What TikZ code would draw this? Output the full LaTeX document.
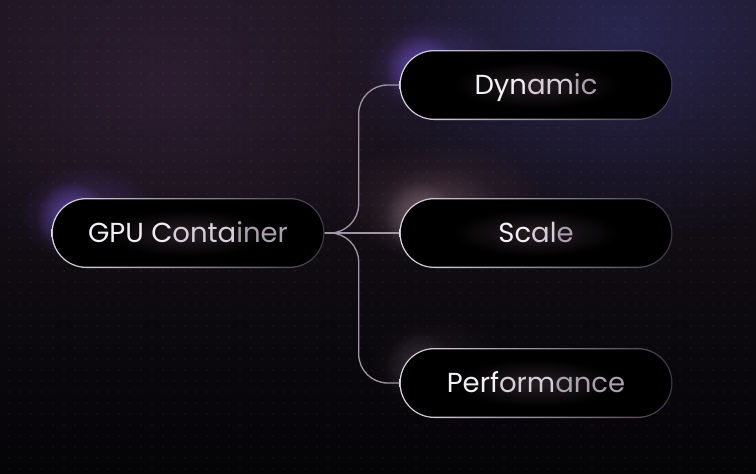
\documentclass[tikz,border=0pt]{standalone}
\usepackage{fontspec}
\setmainfont{Poppins}
\usetikzlibrary{fadings}
\tikzfading[name=glowfade, inner color=transparent!0, outer color=transparent!100]
\definecolor{bgtop}{HTML}{1C1520}
\definecolor{bgmid}{HTML}{110D13}
\definecolor{bgbot}{HTML}{040306}
\definecolor{bluish}{HTML}{29264F}
\definecolor{plum}{HTML}{2C1E30}
\definecolor{rose}{HTML}{33222C}
\definecolor{violet}{HTML}{7454D0}
\definecolor{pinkw}{HTML}{A08A9A}
\definecolor{dimh}{HTML}{6A5A6C}
\definecolor{bdl}{HTML}{E4DCE6}
\definecolor{bdr}{HTML}{41374A}
\definecolor{txtglow}{HTML}{261E24}
\definecolor{connc}{HTML}{A096A6}
\definecolor{t1}{HTML}{F3EFF4}
\definecolor{t2}{HTML}{D6CED9}
\definecolor{t3}{HTML}{ACA0AE}
\newcommand\mypill[6]{%
  \fill[#4, path fading=glowfade, fill opacity=#6*0.45] (#2-100,#3-18) ellipse (70pt and 50pt);
  \fill[#4, path fading=glowfade, fill opacity=#6] (#2-116,#3-16) circle (36pt);
  \shade[left color=bdl, right color=bdr, rounded corners=35pt] (#2-136.5,#3-35) rectangle (#2+136.5,#3+35);
  \fill[black, rounded corners=33.7pt] (#2-135.2,#3-33.7) rectangle (#2+135.2,#3+33.7);
  \fill[txtglow, path fading=glowfade] (#2,#3) ellipse (85pt and 24pt);
  \node[pilltext] (#1) at (#2,#3) {#5};
}
\begin{document}
\begin{tikzpicture}[x=1pt,y=-1pt,
  conn/.style={draw=connc, line width=1.3pt},
  pilltext/.style={minimum width=273pt, minimum height=70pt, inner sep=0pt, text height=19.5pt, text depth=0pt, font=\fontsize{27.5}{32}\selectfont},
  dotc/.style={fill=white, fill opacity=0.075}]
\useasboundingbox (0,0) rectangle (756,474);
% background
\shade[top color=bgtop, bottom color=bgbot, middle color=bgmid] (0,0) rectangle (756,474);
\fill[bluish, path fading=glowfade] (620,30) ellipse (300pt and 210pt);
\fill[plum, path fading=glowfade] (170,80) ellipse (280pt and 200pt);
\fill[rose, path fading=glowfade] (440,200) ellipse (110pt and 60pt);
% dot grid
\foreach \i in {0,...,68}{\foreach \j in {0,...,42}{\fill[dotc] (9+11*\i,7+11*\j) circle (0.8pt);}}
% nodes
\mypill{gpu}{188}{233}{violet}{\textcolor{t1}{GPU C}\textcolor{t2}{onta}\textcolor{t3}{iner}}{0.75}
\mypill{dyn}{536}{85}{violet}{\textcolor{t1}{Dyn}\textcolor{t2}{am}\textcolor{t3}{ic}}{0.75}
\mypill{scale}{536}{233}{pinkw}{\textcolor{t1}{Sc}\textcolor{t2}{al}\textcolor{t3}{e}}{0.55}
\mypill{perf}{536}{383}{dimh}{\textcolor{t1}{Perf}\textcolor{t2}{orm}\textcolor{t3}{ance}}{0.4}
% connectors
\draw[conn, rounded corners=29pt] (gpu.east) -- ++(34,0) |- (dyn.west);
\draw[conn, rounded corners=29pt] (gpu.east) -- ++(34,0) |- (perf.west);
\draw[conn] (gpu.east) -- (scale.west);
\end{tikzpicture}
\end{document}
